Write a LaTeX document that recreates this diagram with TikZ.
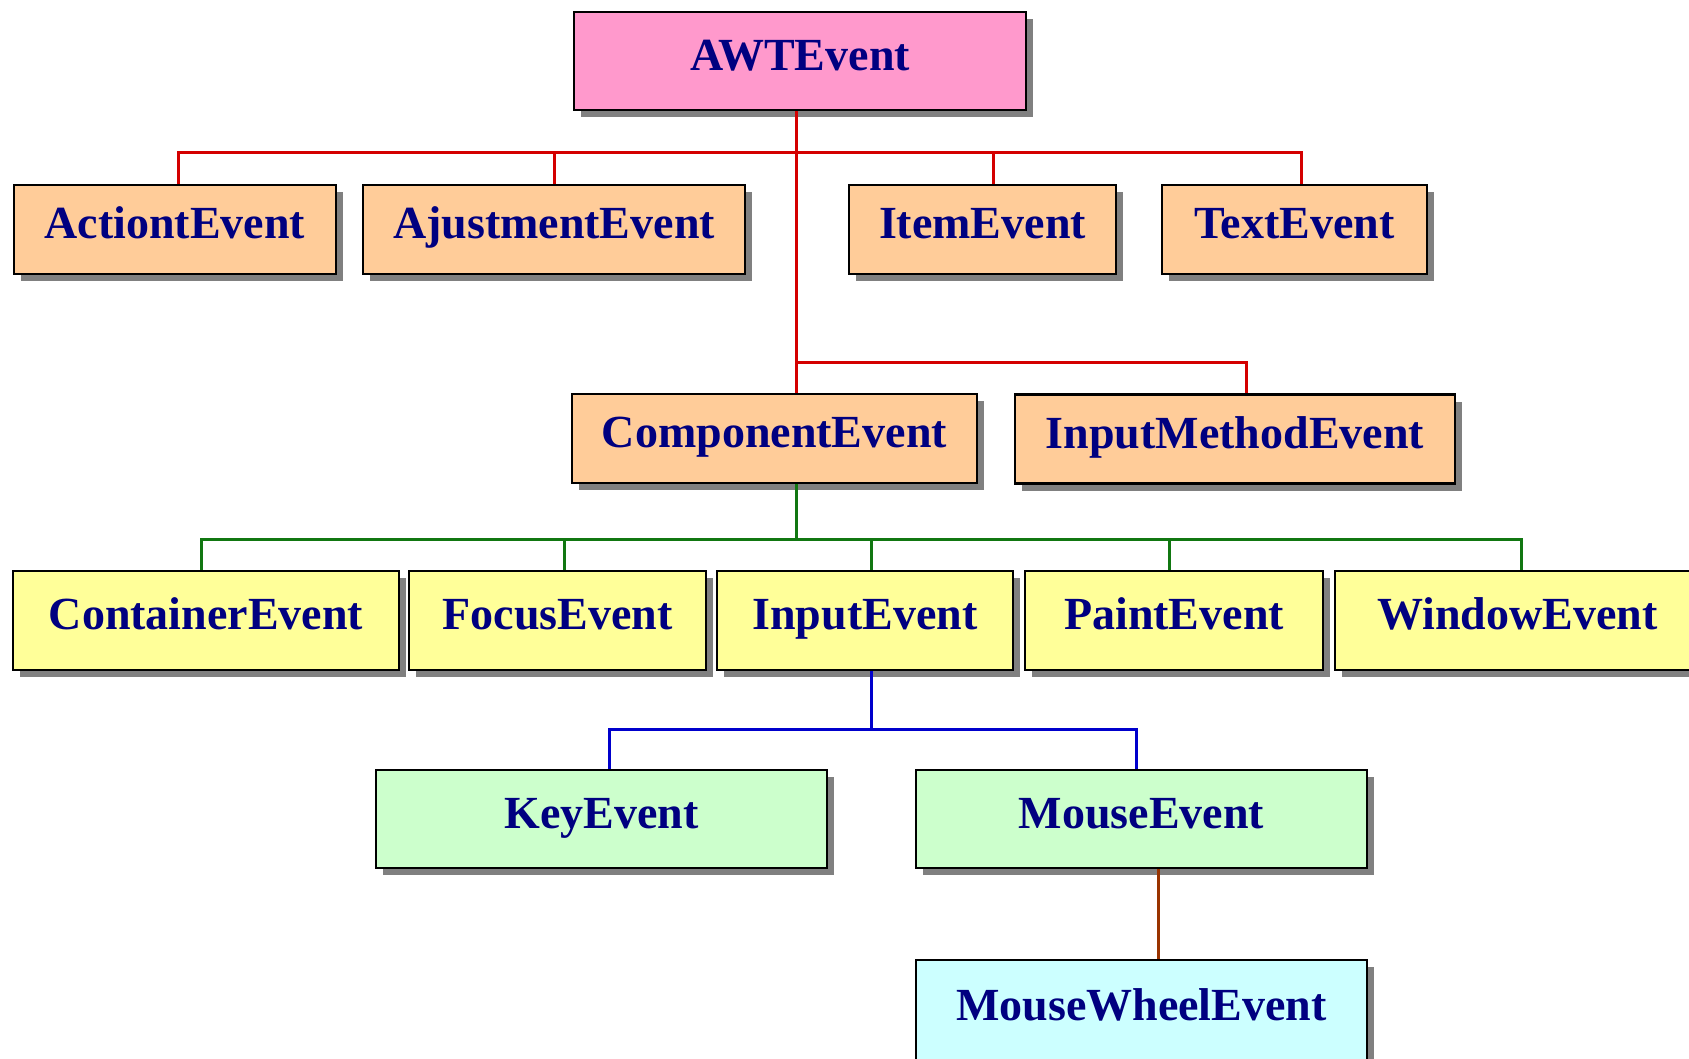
\documentclass[tikz,border=0pt]{standalone}
\usepackage{fontspec}
\setmainfont{Liberation Serif}
\usetikzlibrary{shadows}

\definecolor{evnavy}{HTML}{000080}
\definecolor{boxshade}{HTML}{808080}
\definecolor{awtpink}{HTML}{FF99CC}
\definecolor{peach}{HTML}{FFCC99}
\definecolor{paleyellow}{HTML}{FFFF99}
\definecolor{palegreen}{HTML}{CCFFCC}
\definecolor{palecyan}{HTML}{CCFFFF}
\definecolor{linered}{HTML}{D40000}
\definecolor{linegreen}{HTML}{117711}
\definecolor{lineblue}{HTML}{0000CC}
\definecolor{linebrown}{HTML}{993300}

\tikzset{
  evbox/.style={draw=black, line width=2.5pt, text=evnavy, inner sep=0pt,
    font=\fontsize{46}{50}\selectfont\bfseries,
    text height=34pt, text depth=16pt,
    drop shadow={shadow xshift=7pt, shadow yshift=-7pt, fill=boxshade, opacity=1}},
  rootbox/.style={evbox, fill=awtpink},
  peachbox/.style={evbox, fill=peach, minimum height=89pt},
  yellowbox/.style={evbox, fill=paleyellow, minimum height=99pt},
  greenbox/.style={evbox, fill=palegreen, minimum height=98pt, minimum width=451pt},
  cyanbox/.style={evbox, fill=palecyan, minimum height=102pt, minimum width=451pt},
  conn/.style={line width=3pt}
}

\begin{document}
\begin{tikzpicture}[x=1pt, y=-1pt]
  \useasboundingbox (0,0) rectangle (1689,1058);

  % Root
  \node[rootbox, minimum width=452pt, minimum height=98pt] (awt) at (800,61) {AWTEvent};

  % First level
  \node[peachbox, minimum width=322pt] (action) at (175,229.5) {ActiontEvent};
  \node[peachbox, minimum width=382pt] (ajust) at (554,229.5) {AjustmentEvent};
  \node[peachbox, minimum width=267pt] (item) at (982.5,229.5) {ItemEvent};
  \node[peachbox, minimum width=265pt] (textev) at (1294.5,229.5) {TextEvent};
  \node[peachbox, minimum width=405pt] (comp) at (774.5,438.5) {ComponentEvent};
  \node[peachbox, minimum width=440pt] (imethod) at (1235,439) {InputMethodEvent};

  % Component subclasses
  \node[yellowbox, minimum width=386pt] (container) at (206,620.5) {ContainerEvent};
  \node[yellowbox, minimum width=297pt] (focus) at (557.5,620.5) {FocusEvent};
  \node[yellowbox, minimum width=296pt] (input) at (865,620.5) {InputEvent};
  \node[yellowbox, minimum width=298pt] (paint) at (1174,620.5) {PaintEvent};
  \node[yellowbox, minimum width=365pt] (window) at (1517.5,620.5) {WindowEvent};

  % Input subclasses
  \node[greenbox] (key) at (601.5,819) {KeyEvent};
  \node[greenbox] (mouse) at (1141.5,819) {MouseEvent};
  \node[cyanbox] (wheel) at (1141.5,1011) {MouseWheelEvent};

  % Red links
  \coordinate (rbus) at (796,152);
  \coordinate (rjoin) at (796,362);
  \draw[conn, linered] ([xshift=3pt]action.north) |- (rbus) -| ([xshift=6.5pt]textev.north);
  \foreach \n/\dx in {ajust/0, item/10.5} {
    \draw[conn, linered] ([xshift=\dx pt]\n.north) -- ([xshift=\dx pt]\n.north |- rbus);
  }
  \draw[conn, linered] (awt.south -| rbus) -- (comp.north -| rbus);
  \draw[conn, linered] (rjoin) -| ([xshift=11pt]imethod.north);

  % Green links
  \coordinate (gbus) at (796,539);
  \draw[conn, linegreen] (comp.south -| gbus) -- (gbus);
  \draw[conn, linegreen] ([xshift=-5pt]container.north) |- (gbus) -| ([xshift=3.5pt]window.north);
  \foreach \n/\dx in {focus/6.5, input/6, paint/-5} {
    \draw[conn, linegreen] ([xshift=\dx pt]\n.north) -- ([xshift=\dx pt]\n.north |- gbus);
  }

  % Blue links
  \coordinate (bbus) at (871,729);
  \draw[conn, lineblue] (input.south -| bbus) -- (bbus);
  \draw[conn, lineblue] ([xshift=7.5pt]key.north) |- (bbus) -| ([xshift=-5.5pt]mouse.north);

  % Brown link
  \draw[conn, linebrown] ([xshift=16.5pt]mouse.south) -- ([xshift=16.5pt]wheel.north);
\end{tikzpicture}
\end{document}
